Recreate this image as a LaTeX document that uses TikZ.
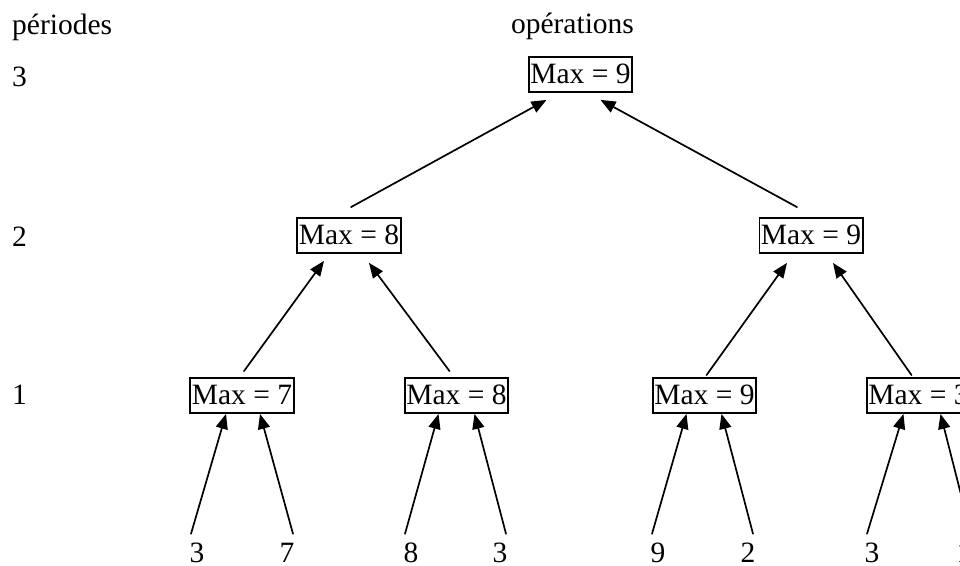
\documentclass[tikz,border=0pt]{standalone}
\usepackage{fontspec}
\setmainfont{Liberation Serif}
\usetikzlibrary{arrows.meta, positioning}
\newcommand{\taille}{\fontsize{29.5}{35}\selectfont}

\tikzset{
    boite/.style={draw, line width=1.8pt, inner xsep=1.5pt, inner ysep=1pt,
        text height=25pt, text depth=8pt, anchor=base},
    feuille/.style={inner sep=0pt, text height=28pt, anchor=base},
    etiquette/.style={inner sep=0pt, anchor=base west},
    fleche/.style={line width=1.7pt, -{Triangle[length=15pt, width=12pt]}}
}

\begin{document}
\begin{tikzpicture}[x=1pt, y=-1pt, font=\taille, line cap=round]
        \useasboundingbox (0, 0) rectangle (960, 565);
        \clip (0, 0) rectangle (960, 565);
        %\draw [step=20, very thin, lightgray] (0, 0) grid (960, 565);

        % titres et periodes
        \node [etiquette] (titreP) at (12, 34) {périodes};
        \node [inner sep=0pt, anchor=base] (titreO) at (572.5, 33) {opérations};
        \node [etiquette] (p3) at (12, 86) {3};
        \node [etiquette] (p2) at (12, 246) {2};
        \node [etiquette] (p1) at (12, 404) {1};

        % operations
        \node [boite] (r) at (580.5, 83) {Max = 9};
        \node [boite] (n1) at (349, 244) {Max = 8};
        \node [boite] (n2) at (811, 244) {Max = 9};
        \node [boite] (m1) at (242, 404) {Max = 7};
        \node [boite] (m2) at (456.5, 404) {Max = 8};
        \node [boite] (m3) at (704.5, 404) {Max = 9};
        \node [boite] (m4) at (918.5, 404) {Max = 3};

        % donnees
        \node [feuille] (f1) at (197, 562) {3};
        \node [feuille] (f2) at (287, 562) {7};
        \node [feuille] (f3) at (411, 562) {8};
        \node [feuille] (f4) at (500, 562) {3};
        \node [feuille] (f5) at (658, 562) {9};
        \node [feuille] (f6) at (748, 562) {2};
        \node [feuille] (f7) at (872, 562) {3};
        \node [feuille] (f8) at (964, 562) {1};

        % periode 1
        \draw [fleche] ([xshift=-6pt]f1.north) -- ([xshift=-16pt]m1.south);
        \draw [fleche] ([xshift=6pt]f2.north) -- ([xshift=18pt]m1.south);
        \draw [fleche] ([xshift=-6pt]f3.north) -- ([xshift=-18pt]m2.south);
        \draw [fleche] ([xshift=6pt]f4.north) -- ([xshift=18pt]m2.south);
        \draw [fleche] ([xshift=-6pt]f5.north) -- ([xshift=-18pt]m3.south);
        \draw [fleche] ([xshift=5pt]f6.north) -- ([xshift=17pt]m3.south);
        \draw [fleche] ([xshift=-5pt]f7.north) -- ([xshift=-15pt]m4.south);
        \draw [fleche] ([xshift=7pt]f8.north) -- ([xshift=22pt]m4.south);

        % periode 2
        \draw [fleche] ([xshift=2pt, yshift=6pt]m1.north) -- ([xshift=-25pt, yshift=-7pt]n1.south);
        \draw [fleche] ([xshift=-7pt, yshift=6pt]m2.north) -- ([xshift=20pt, yshift=-9pt]n1.south);
        \draw [fleche] ([xshift=2pt, yshift=2pt]m3.north) -- ([xshift=-24pt, yshift=-9pt]n2.south);
        \draw [fleche] ([xshift=-7pt, yshift=2pt]m4.north) -- ([xshift=22pt, yshift=-9pt]n2.south);

        % periode 3
        \draw [fleche] ([xshift=2pt, yshift=10pt]n1.north) -- ([xshift=-34pt, yshift=-7pt]r.south);
        \draw [fleche] ([xshift=-14pt, yshift=10pt]n2.north) -- ([xshift=20pt, yshift=-7pt]r.south);
    \end{tikzpicture}
\end{document}
